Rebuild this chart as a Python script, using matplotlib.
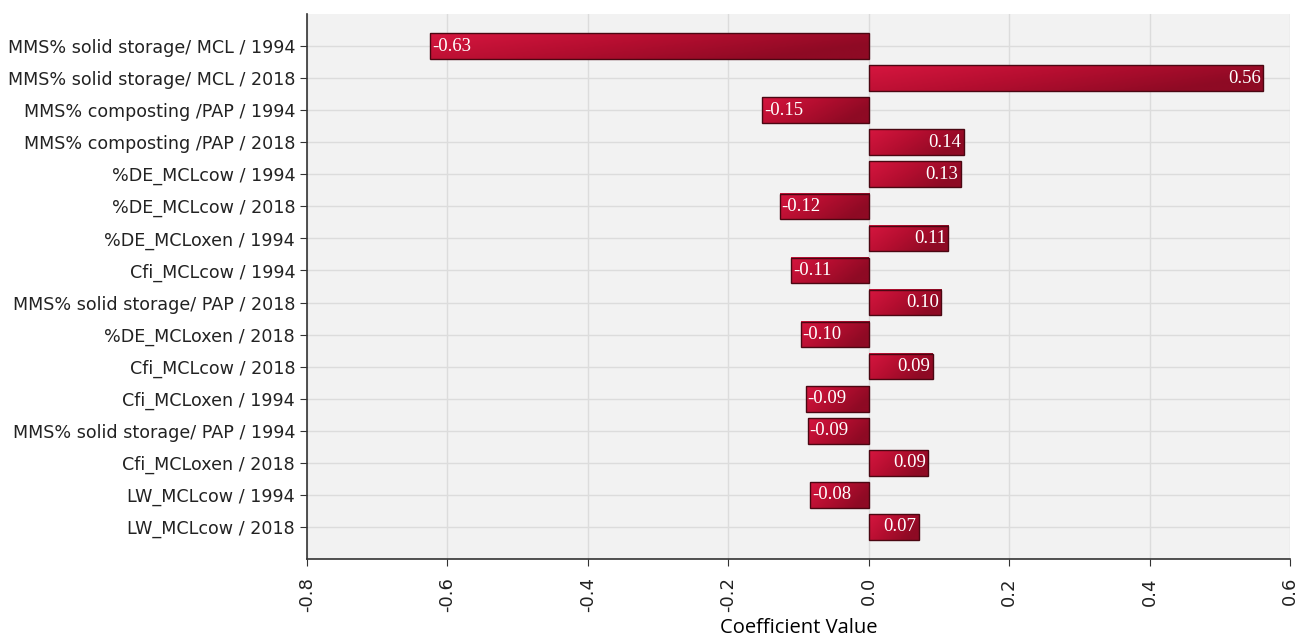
import numpy as np
import matplotlib
matplotlib.use("Agg")
import matplotlib.pyplot as plt
from matplotlib.colors import LinearSegmentedColormap

categories = [
    "MMS% solid storage/ MCL / 1994",
    "MMS% solid storage/ MCL / 2018",
    "MMS% composting /PAP / 1994",
    "MMS% composting /PAP / 2018",
    "%DE_MCLcow / 1994",
    "%DE_MCLcow / 2018",
    "%DE_MCLoxen / 1994",
    "Cfi_MCLcow / 1994",
    "MMS% solid storage/ PAP / 2018",
    "%DE_MCLoxen / 2018",
    "Cfi_MCLcow / 2018",
    "Cfi_MCLoxen / 1994",
    "MMS% solid storage/ PAP / 1994",
    "Cfi_MCLoxen / 2018",
    "LW_MCLcow / 1994",
    "LW_MCLcow / 2018",
]
values = [-0.625, 0.561, -0.152, 0.135, 0.131, -0.127, 0.113, -0.111,
          0.103, -0.097, 0.091, -0.090, -0.087, 0.085, -0.083, 0.071]
value_labels = ["-0.63", "0.56", "-0.15", "0.14", "0.13", "-0.12", "0.11", "-0.11",
                "0.10", "-0.10", "0.09", "-0.09", "-0.09", "0.09", "-0.08", "0.07"]
xticks = [-0.8, -0.6, -0.4, -0.2, 0.0, 0.2, 0.4, 0.6]

fig = plt.figure(figsize=(12.99, 6.39), dpi=100)
ax = fig.add_axes([307/1299, 80/639, (1290-307)/1299, (559-14)/639])
ax.set_facecolor("#f2f2f2")

ypos = np.arange(len(categories))
bh = 0.8
bars = ax.barh(ypos, values, height=bh, color="none", edgecolor="#4a0712",
               linewidth=1.0, zorder=4)

cmap = LinearSegmentedColormap.from_list("g", ["#d6163f", "#b50e30", "#8e0a24"])
grad = np.linspace(0, 1, 256).reshape(1, -1)
vgrad = np.linspace(0, 1, 32).reshape(-1, 1)
img = np.clip(grad * 0.85 + vgrad * 0.35, 0, 1)
for b in bars:
    x0 = b.get_x(); w = b.get_width(); y0 = b.get_y(); h = b.get_height()
    xa, xb = min(x0, x0 + w), max(x0, x0 + w)
    ax.imshow(img, cmap=cmap, extent=(xa, xb, y0 + h, y0), aspect="auto",
              zorder=3, interpolation="bilinear", vmin=0, vmax=1)

for y, v, lab in zip(ypos, values, value_labels):
    if v < 0:
        ax.text(v + 0.003, y, lab, ha="left", va="center", color="white",
                fontsize=13.5, family="Liberation Serif", zorder=5)
    else:
        ax.text(v - 0.003, y, lab, ha="right", va="center", color="white",
                fontsize=13.5, family="Liberation Serif", zorder=5)

ax.set_xlim(-0.8, 0.6)
ax.set_ylim(len(categories), -1)
ax.set_xticks(xticks)
ax.set_xticklabels([f"{t:.1f}" for t in xticks], rotation=90, fontsize=13)
ax.set_yticks(ypos)
ax.set_yticklabels(categories, fontsize=12.6)
ax.grid(True, color="#dcdcdc", linewidth=1.0, zorder=0)
ax.set_axisbelow(True)
for s in ["top", "right"]:
    ax.spines[s].set_visible(False)
for s in ["left", "bottom"]:
    ax.spines[s].set_color("#333333")
    ax.spines[s].set_linewidth(1.2)
ax.tick_params(axis="both", length=5, color="#333333", labelcolor="#222222")
ax.tick_params(axis="x", pad=8)
ax.set_xlabel("Coefficient Value", fontsize=14.5, family="Open Sans", labelpad=4)

fig.savefig("out.png", dpi=100)
